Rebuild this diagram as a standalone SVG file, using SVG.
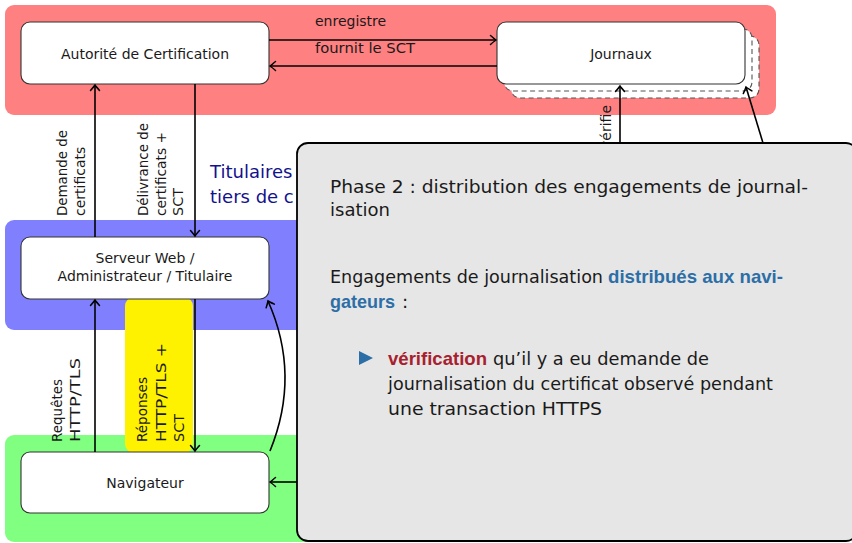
<svg xmlns="http://www.w3.org/2000/svg" width="852" height="543" viewBox="0 0 852 543">
<style>
.band{stroke:none}
.node{fill:#fff;stroke:#333;stroke-width:1.1}
.shadow{fill:#fff;stroke:#555;stroke-width:1.1;stroke-dasharray:5,3.5}
.lbl{font-family:"DejaVu Sans",sans-serif;font-size:14px;fill:#1a1a1a}
.ctr{text-anchor:middle}
.conn{fill:none;stroke:#000;stroke-width:1.6}
.ptx{font-family:"DejaVu Sans",sans-serif;font-size:18.5px;fill:#1a1a1a}
.bld{font-family:"Liberation Sans",Arial,sans-serif;font-size:19px;font-weight:bold}
.blu{fill:#2c6ea6}
.red{fill:#a8202e}
</style>
<defs>
<marker id="arr" viewBox="-7 -6 9 12" refX="0" refY="0" markerWidth="9" markerHeight="12" markerUnits="userSpaceOnUse" orient="auto">
<path d="M-5.5,-4.5 Q-1.5,-1 0,0 Q-1.5,1 -5.5,4.5" fill="none" stroke="#000" stroke-width="1.5" stroke-linecap="round"/>
</marker>
</defs>

<g id="bands">
<rect class="band" x="5" y="5" width="771" height="110" rx="9" fill="#ff8080"/>
<rect class="band" x="5" y="220" width="320" height="110" rx="9" fill="#8080ff"/>
<rect class="band" x="5" y="435" width="320" height="107" rx="9" fill="#80ff80"/>
<rect id="yellow" x="125" y="297" width="68" height="156" rx="9" fill="#fff200"/>
</g>

<g id="titulaires-label">
<text x="210" y="178" font-family="DejaVu Sans, sans-serif" font-size="18px" fill="#12128e">Titulaires</text>
<text x="210" y="203" font-family="DejaVu Sans, sans-serif" font-size="18px" fill="#12128e">tiers de c</text>
</g>

<g id="ca">
<rect class="node" x="21" y="22" width="248" height="62" rx="9"/>
<text class="lbl ctr" x="145" y="59">Autorité de Certification</text>
</g>

<g id="journaux">
<rect class="shadow" x="511" y="36" width="248" height="62" rx="9"/>
<rect class="shadow" x="504" y="29" width="248" height="62" rx="9"/>
<rect class="node" x="497" y="22" width="248" height="62" rx="9"/>
<text class="lbl ctr" x="621" y="59">Journaux</text>
</g>

<g id="serveur">
<rect class="node" x="21" y="237" width="248" height="62" rx="9"/>
<text class="lbl ctr" x="145" y="263">Serveur Web /</text>
<text class="lbl ctr" x="145" y="281">Administrateur / Titulaire</text>
</g>

<g id="navigateur">
<rect class="node" x="21" y="452" width="248" height="61" rx="9"/>
<text class="lbl ctr" x="145" y="488">Navigateur</text>
</g>

<g id="connectors">
<path class="conn" d="M269,40 H496" marker-end="url(#arr)"/>
<path class="conn" d="M497,66 H270" marker-end="url(#arr)"/>
<path class="conn" d="M95,237 V85" marker-end="url(#arr)"/>
<path class="conn" d="M195,84 V236" marker-end="url(#arr)"/>
<path class="conn" d="M95,452 V300" marker-end="url(#arr)"/>
<path class="conn" d="M195,299 V451" marker-end="url(#arr)"/>
<path class="conn" d="M270,451 Q301,375 268,301" marker-end="url(#arr)"/>
<path class="conn" d="M297,482 H270" marker-end="url(#arr)"/>
<path class="conn" d="M620,143 V86" marker-end="url(#arr)"/>
<path class="conn" d="M763,143 L746,87" marker-end="url(#arr)"/>
</g>

<g id="connector-labels">
<text class="lbl" x="315" y="26">enregistre</text>
<text class="lbl" x="315" y="53" textLength="100" lengthAdjust="spacingAndGlyphs">fournit le SCT</text>
<text class="lbl" transform="translate(67,216) rotate(-90)" textLength="86" lengthAdjust="spacingAndGlyphs">Demande de</text>
<text class="lbl" transform="translate(85,216) rotate(-90)">certificats</text>
<text class="lbl" transform="translate(148,216) rotate(-90)" textLength="93" lengthAdjust="spacingAndGlyphs">Délivrance de</text>
<text class="lbl" transform="translate(166,216) rotate(-90)" textLength="84" lengthAdjust="spacingAndGlyphs">certificats +</text>
<text class="lbl" transform="translate(183,216) rotate(-90)" textLength="28" lengthAdjust="spacingAndGlyphs">SCT</text>
<text class="lbl" transform="translate(62,442) rotate(-90)" textLength="63" lengthAdjust="spacingAndGlyphs">Requêtes</text>
<text class="lbl" transform="translate(80,442) rotate(-90)" textLength="84" lengthAdjust="spacingAndGlyphs">HTTP/TLS</text>
<text class="lbl" transform="translate(147,442) rotate(-90)" textLength="65" lengthAdjust="spacingAndGlyphs">Réponses</text>
<text class="lbl" transform="translate(166,442) rotate(-90)" textLength="99" lengthAdjust="spacingAndGlyphs">HTTP/TLS +</text>
<text class="lbl" transform="translate(184,442) rotate(-90)" textLength="28" lengthAdjust="spacingAndGlyphs">SCT</text>
<text class="lbl" text-anchor="end" transform="translate(611,105) rotate(-90)">vérifie</text>
</g>

<g id="panel">
<rect x="297" y="143" width="560" height="398" rx="11" fill="#e6e6e6" stroke="#000" stroke-width="1.8"/>
<text class="ptx" x="330" y="193" textLength="478" lengthAdjust="spacingAndGlyphs">Phase 2 : distribution des engagements de journal-</text>
<text class="ptx" x="330" y="216" textLength="60" lengthAdjust="spacingAndGlyphs">isation</text>
<text class="ptx" x="330" y="283" textLength="273" lengthAdjust="spacingAndGlyphs">Engagements de journalisation</text>
<text class="bld blu" x="608" y="283" textLength="175" lengthAdjust="spacingAndGlyphs">distribués aux navi-</text>
<text class="bld blu" x="330" y="308" textLength="65" lengthAdjust="spacingAndGlyphs">gateurs</text>
<text class="ptx" x="402" y="308">:</text>
<polygon points="359,351 373,358 359,365" fill="#2c6ea6"/>
<text class="bld red" x="388" y="365" textLength="99" lengthAdjust="spacingAndGlyphs">vérification</text>
<text class="ptx" x="493" y="365" textLength="216" lengthAdjust="spacingAndGlyphs">qu’il y a eu demande de</text>
<text class="ptx" x="388" y="390" textLength="385" lengthAdjust="spacingAndGlyphs">journalisation du certificat observé pendant</text>
<text class="ptx" x="388" y="415" textLength="214" lengthAdjust="spacingAndGlyphs">une transaction HTTPS</text>
</g>
</svg>
